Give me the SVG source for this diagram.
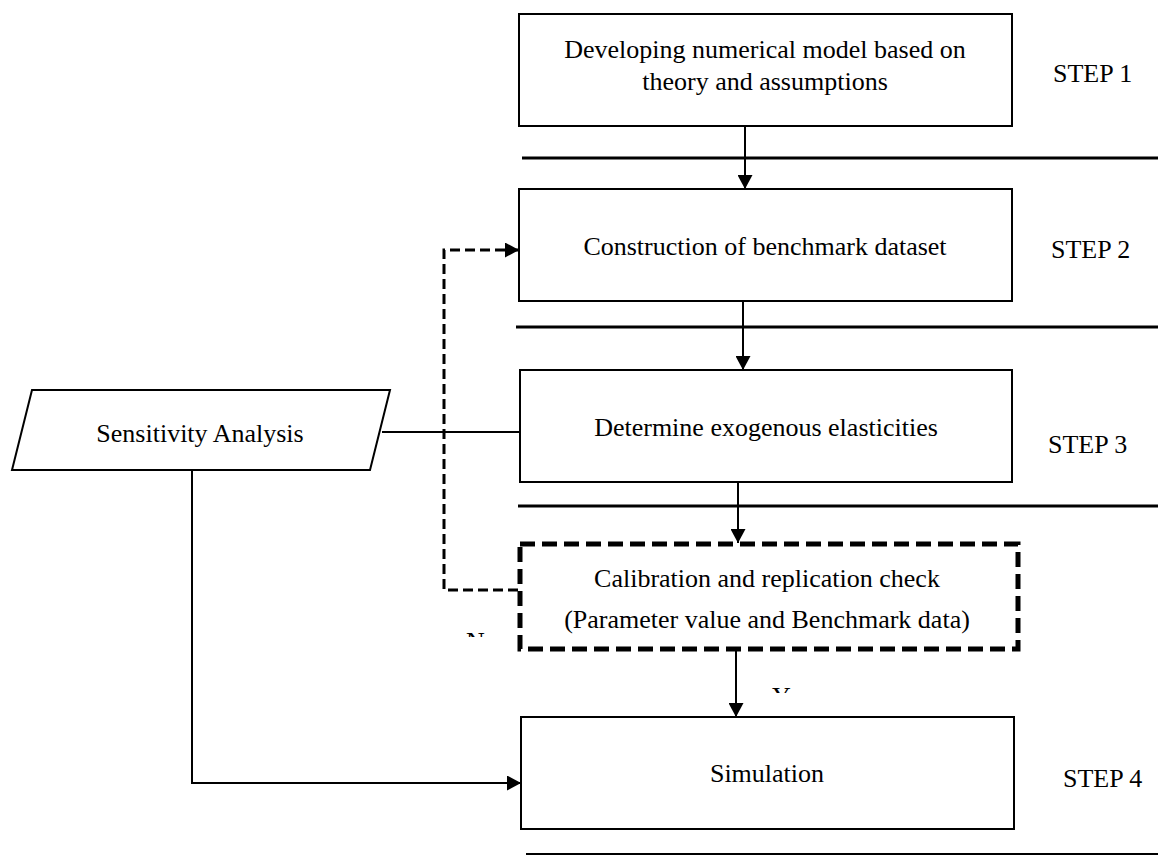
<svg xmlns="http://www.w3.org/2000/svg" width="1158" height="855" viewBox="0 0 1158 855">
  <style>
    .box { fill: #fff; stroke: #000; stroke-width: 2; }
    .dbox { fill: #fff; stroke: #000; stroke-width: 5; stroke-dasharray: 15 7; }
    .t { font-family: "Liberation Serif", "Times New Roman", serif; font-size: 26px; fill: #000; }
    .c { text-anchor: middle; }
    .sep { stroke: #000; stroke-width: 3; fill: none; }
    .ln { stroke: #000; stroke-width: 2; fill: none; }
    .dln { stroke: #000; stroke-width: 3; fill: none; stroke-dasharray: 10 5; }
  </style>
  <defs>
    <marker id="ah" markerUnits="userSpaceOnUse" markerWidth="15" markerHeight="15" refX="14" refY="7.5" orient="auto">
      <path d="M0,0 L14,7.5 L0,15 Z" fill="#000"/>
    </marker>
    <clipPath id="clipN"><rect x="455" y="625" width="40" height="12"/></clipPath>
    <clipPath id="clipY"><rect x="760" y="680" width="40" height="13"/></clipPath>
  </defs>
  <rect width="1158" height="855" fill="#fff"/>

  <g id="separators">
    <line class="sep" x1="522" y1="158" x2="1158" y2="158"/>
    <line class="sep" x1="516" y1="327" x2="1158" y2="327"/>
    <line class="sep" x1="518" y1="506" x2="1158" y2="506"/>
    <line class="ln" x1="526" y1="854" x2="1158" y2="854"/>
  </g>

  <g id="connectors">
    <line class="ln" x1="745" y1="126" x2="745" y2="189" marker-end="url(#ah)"/>
    <line class="ln" x1="743" y1="301" x2="743" y2="370" marker-end="url(#ah)"/>
    <line class="ln" x1="738" y1="482" x2="738" y2="543" marker-end="url(#ah)"/>
    <line class="ln" x1="736" y1="649" x2="736" y2="717" marker-end="url(#ah)"/>
    <line class="ln" x1="382" y1="432" x2="520" y2="432"/>
    <path class="dln" d="M518,590 H444 V250 H519" marker-end="url(#ah)"/>
    <path class="ln" d="M73,470 H192 V783 H521" marker-end="url(#ah)"/>
    <text class="t" x="466" y="650" clip-path="url(#clipN)" font-size="20">N</text>
    <text class="t" x="772" y="705" clip-path="url(#clipY)" font-size="20">Y</text>
  </g>

  <g id="step1">
    <rect class="box" x="519" y="14" width="493" height="112"/>
    <text class="t c" x="765" y="58">Developing numerical model based on</text>
    <text class="t c" x="765" y="90">theory and assumptions</text>
  </g>
  <g id="step2">
    <rect class="box" x="519" y="189" width="493" height="112"/>
    <text class="t c" x="765" y="255">Construction of benchmark dataset</text>
  </g>
  <g id="step3">
    <rect class="box" x="520" y="370" width="492" height="112"/>
    <text class="t c" x="766" y="436">Determine exogenous elasticities</text>
  </g>
  <g id="calibration">
    <rect class="dbox" x="520" y="544" width="498" height="105"/>
    <text class="t c" x="767" y="587">Calibration and replication check</text>
    <text class="t c" x="767" y="628">(Parameter value and Benchmark data)</text>
  </g>
  <g id="simulation">
    <rect class="box" x="521" y="717" width="493" height="112"/>
    <text class="t c" x="767" y="782">Simulation</text>
  </g>
  <g id="sensitivity">
    <polygon class="box" points="32,390 390,390 370,470 12,470"/>
    <text class="t c" x="200" y="442">Sensitivity Analysis</text>
  </g>

  <g id="step-labels">
    <text class="t" x="1053" y="82">STEP 1</text>
    <text class="t" x="1051" y="258">STEP 2</text>
    <text class="t" x="1048" y="453">STEP 3</text>
    <text class="t" x="1063" y="787">STEP 4</text>
  </g>
</svg>
